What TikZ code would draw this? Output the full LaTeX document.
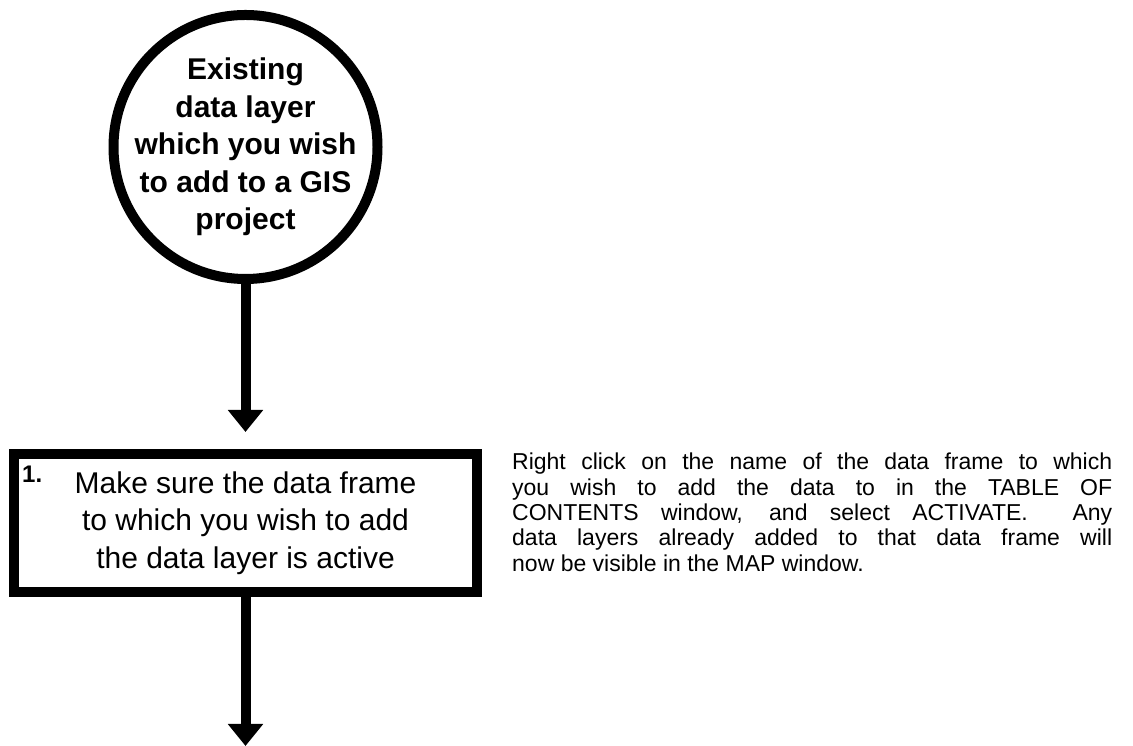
\documentclass[tikz,border=0pt]{standalone}
\usepackage{fontspec}
\setmainfont{Liberation Sans}
\usetikzlibrary{arrows.meta,calc}

\begin{document}
\begin{tikzpicture}[x=1pt,y=1pt,
    flow/.style={line width=10pt,-{Triangle[width=34pt,length=22pt]}},
    start/.style={circle,draw,line width=10pt,minimum size=264pt,inner sep=-14pt,
      align=center,font=\fontsize{30}{37.5}\selectfont\bfseries},
    stepbox/.style={rectangle,draw,line width=10pt,minimum width=463pt,
      minimum height=138pt,inner sep=0pt,align=center,
      font=\fontsize{30}{37.5}\selectfont},
    stepnum/.style={anchor=north west,inner sep=0pt,font=\fontsize{24}{24}\selectfont\bfseries},
    note/.style={anchor=north west,inner sep=0pt,text width=600pt,align=justify,
      font=\fontsize{23}{25.3}\selectfont}]
  \useasboundingbox (0,0) rectangle (1133,746);

  % start layer and first step
  \node[start] (exist) at (245.5,599)
    {Existing\\data layer\\which you wish\\to add to a GIS\\project};
  \node[stepbox] (step1) at (245.5,223)
    {Make sure the data frame\\to which you wish to add\\the data layer is active};
  \node[stepnum] (num1) at ($(step1.north west)+(13,-17)$) {1.};

  % how to do it
  \node[note] (hint1) at (512,293)
    {Right click on the name of the data frame to which\linebreak
     you wish to add the data to in the TABLE OF\linebreak
     CONTENTS window, and select ACTIVATE.\ \ Any\linebreak
     data layers already added to that data frame will\linebreak
     now be visible in the MAP window.};

  \coordinate (tip1) at ($(step1.north)+(0,17)$);
  \coordinate (tip2) at (step1.south |- 0,0);
  \begin{scope}[flow]
    \draw (exist) -- (tip1);
    \draw (step1) -- (tip2);
  \end{scope}
\end{tikzpicture}
\end{document}
